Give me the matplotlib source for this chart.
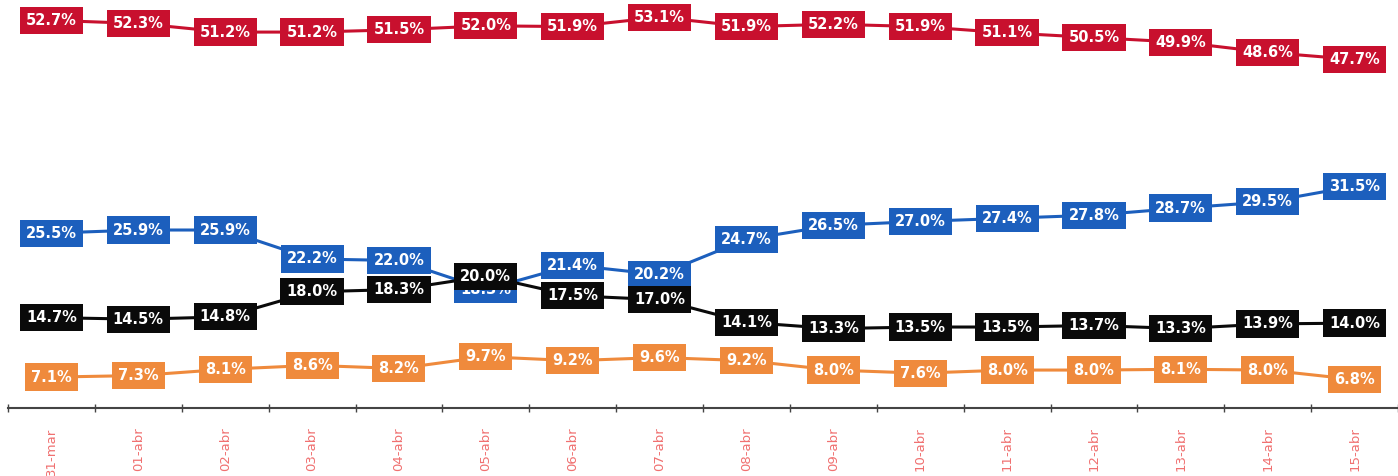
import matplotlib
matplotlib.use('Agg')
import matplotlib.pyplot as plt

fechas = ['31-mar', '01-abr', '02-abr', '03-abr', '04-abr', '05-abr', '06-abr', '07-abr',
          '08-abr', '09-abr', '10-abr', '11-abr', '12-abr', '13-abr', '14-abr', '15-abr']

rojo = [52.7, 52.3, 51.2, 51.2, 51.5, 52.0, 51.9, 53.1, 51.9, 52.2, 51.9, 51.1, 50.5, 49.9, 48.6, 47.7]
azul = [25.5, 25.9, 25.9, 22.2, 22.0, 18.3, 21.4, 20.2, 24.7, 26.5, 27.0, 27.4, 27.8, 28.7, 29.5, 31.5]
negro = [14.7, 14.5, 14.8, 18.0, 18.3, 20.0, 17.5, 17.0, 14.1, 13.3, 13.5, 13.5, 13.7, 13.3, 13.9, 14.0]
naranja = [7.1, 7.3, 8.1, 8.6, 8.2, 9.7, 9.2, 9.6, 9.2, 8.0, 7.6, 8.0, 8.0, 8.1, 8.0, 6.8]

series = [(rojo, '#c8102e'), (azul, '#1c5fbd'), (negro, '#0a0a0a'), (naranja, '#ef8a3c')]

fig = plt.figure(figsize=(13.98, 4.76), dpi=100)
ax = fig.add_axes([8 / 1398, 68 / 476, 1390 / 1398, 408 / 476])

x = list(range(len(fechas)))
for valores, color in series:
    ax.plot(x, valores, color=color, linewidth=2.2, zorder=2)
    for xi, v in zip(x, valores):
        ax.text(xi, v, '%.1f%%' % v, ha='center', va='center', color='white',
                fontsize=10.5, fontweight='bold', zorder=3,
                bbox=dict(boxstyle='square,pad=0.42', facecolor=color, edgecolor='none'))

ax.set_xlim(-0.5, len(fechas) - 0.5)
ax.set_ylim(3.15, 55.3)

for lado in ['top', 'right', 'left']:
    ax.spines[lado].set_visible(False)
ax.spines['bottom'].set_color('#444444')
ax.spines['bottom'].set_linewidth(1.5)
ax.set_yticks([])

ax.set_xticks(x)
ax.set_xticklabels(fechas, rotation=90, color='#f07070', fontsize=9.5, va='top')
ax.tick_params(axis='x', which='major', length=0, pad=14)
ax.set_xticks([i - 0.5 for i in range(len(fechas) + 1)], minor=True)
ax.tick_params(axis='x', which='minor', length=6, width=1, color='#444444', direction='inout')

plt.savefig('out.png', dpi=100)
